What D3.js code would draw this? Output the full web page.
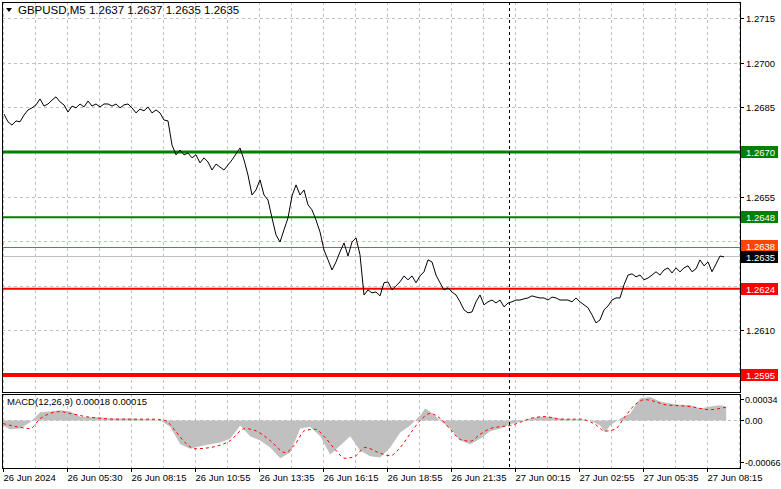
<!DOCTYPE html>
<html>
<head>
<meta charset="utf-8">
<script src="https://cdn.jsdelivr.net/npm/d3@7"></script>
<style>
body { margin: 0; background: #fff; }
text { font-family: "Liberation Sans", Arial, sans-serif; font-size: 9.5px; fill: #000; }
</style>
</head>
<body>
<div id="chart"></div>
<script>
// close prices, one every 10 minutes from 26 Jun 02:50
const closes = [
    1.26827, 1.26801, 1.26790, 1.26804, 1.26801, 1.26824, 1.26841, 1.26848, 1.26858, 1.26878,
    1.26854, 1.26861, 1.26874, 1.26885, 1.26868, 1.26858, 1.26834, 1.26854, 1.26848, 1.26861,
    1.26851, 1.26871, 1.26854, 1.26861, 1.26851, 1.26861, 1.26861, 1.26854, 1.26861, 1.26848,
    1.26858, 1.26861, 1.26848, 1.26831, 1.26844, 1.26838, 1.26851, 1.26831, 1.26841, 1.26831,
    1.26807, 1.26804, 1.26723, 1.26690, 1.26706, 1.26690, 1.26696, 1.26680, 1.26690, 1.26663,
    1.26680, 1.26666, 1.26639, 1.26659, 1.26649, 1.26639, 1.26656, 1.26673, 1.26693, 1.26713,
    1.26673, 1.26622, 1.26555, 1.26572, 1.26606, 1.26555, 1.26538, 1.26478, 1.26421, 1.26397,
    1.26438, 1.26478, 1.26552, 1.26589, 1.26555, 1.26572, 1.26522, 1.26505, 1.26471, 1.26431,
    1.26370, 1.26337, 1.26303, 1.26330, 1.26364, 1.26394, 1.26350, 1.26397, 1.26411, 1.26354,
    1.26219, 1.26236, 1.26226, 1.26229, 1.26216, 1.26260, 1.26263, 1.26236, 1.26250, 1.26263,
    1.26283, 1.26270, 1.26283, 1.26260, 1.26283, 1.26297, 1.26337, 1.26330, 1.26286, 1.26260,
    1.26236, 1.26243, 1.26229, 1.26219, 1.26196, 1.26169, 1.26159, 1.26162, 1.26196, 1.26219,
    1.26186, 1.26196, 1.26202, 1.26192, 1.26202, 1.26179, 1.26192, 1.26196, 1.26202, 1.26202,
    1.26206, 1.26209, 1.26216, 1.26212, 1.26209, 1.26209, 1.26202, 1.26212, 1.26209, 1.26202,
    1.26202, 1.26202, 1.26196, 1.26209, 1.26196, 1.26186, 1.26176, 1.26152, 1.26125, 1.26135,
    1.26169, 1.26182, 1.26202, 1.26209, 1.26209, 1.26253, 1.26286, 1.26290, 1.26280, 1.26286,
    1.26270, 1.26276, 1.26286, 1.26297, 1.26286, 1.26303, 1.26310, 1.26293, 1.26310, 1.26297,
    1.26310, 1.26317, 1.26297, 1.26307, 1.26337, 1.26317, 1.26330, 1.26297, 1.26323, 1.26350,
    1.26347
];

// MACD, [minutes from 02:50, value]
const macdHist = [
    [0, -0.00008], [18, -0.00014], [43, -0.00013], [68, -0.00003], [93, 0.00013], [118, 0.00014],
    [143, 0.00016], [168, 0.00014], [193, 0.00006], [218, 0.00005], [243, 0.00005], [268, 0.00003],
    [293, 0.00003], [318, 0.00003], [343, 0.00002], [368, 0.00002], [393, 0], [418, -0.0001],
    [443, -0.00038], [468, -0.00045], [493, -0.00041], [518, -0.00038], [543, -0.00035], [568, -0.00029],
    [593, -0.00008], [618, -0.00025], [643, -0.00032], [668, -0.00043], [693, -0.0006], [718, -0.00051],
    [743, -0.00013], [768, -0.0001], [793, -0.00025], [818, -0.00054], [843, -0.0004], [868, -0.00025],
    [893, -0.00048], [918, -0.00057], [943, -0.00059], [968, -0.00043], [993, -0.00019], [1018, -0.00008],
    [1043, 0.00008], [1055, 0.00019], [1068, 0.00014], [1093, 0], [1118, -0.00013], [1143, -0.00032],
    [1168, -0.00038], [1193, -0.00029], [1218, -0.00017], [1243, -0.00013], [1268, -0.00006], [1293, -0.00002],
    [1318, 0.00003], [1343, 0.00006], [1368, 0.00006], [1393, 0.00003], [1418, 0.00002], [1443, 0.00002],
    [1468, 0], [1493, -0.00008], [1505, -0.00019], [1518, -0.00008], [1543, 0.00003], [1568, 0.00011],
    [1593, 0.00035], [1618, 0.00037], [1643, 0.0003], [1668, 0.00027], [1693, 0.00025], [1718, 0.00024],
    [1743, 0.00019], [1768, 0.00022], [1793, 0.00024], [1808, 0.00022]
];
const macdSignal = [
    [0, -0.00005], [43, -0.00011], [68, -0.00013], [93, 0.00003], [143, 0.00014], [168, 0.00011],
    [218, 0.00005], [293, 0.00002], [368, 0.00002], [405, 0], [430, -0.00016], [455, -0.00035],
    [480, -0.00045], [518, -0.00043], [568, -0.00032], [605, -0.00013], [630, -0.00016], [668, -0.00032],
    [705, -0.00051], [730, -0.00038], [755, -0.00016], [780, -0.00014], [805, -0.00027], [830, -0.00046],
    [855, -0.0006], [880, -0.00057], [905, -0.00043], [943, -0.00052], [968, -0.00056], [993, -0.00043],
    [1018, -0.00021], [1043, 0], [1068, 0.00011], [1093, 0.00003], [1118, -0.00014], [1143, -0.0003],
    [1168, -0.00033], [1193, -0.00022], [1218, -0.00013], [1243, -0.0001], [1268, -0.00008], [1293, -0.00003],
    [1318, 0.00003], [1355, 0.00006], [1393, 0.00002], [1443, 0.00002], [1480, -0.00006], [1505, -0.00017],
    [1530, -0.00014], [1555, 0.00006], [1580, 0.00025], [1605, 0.00033], [1630, 0.0003], [1655, 0.00025],
    [1718, 0.00022], [1768, 0.00017], [1793, 0.00019], [1808, 0.00021]
];

const priceTicks = [1.2715, 1.2700, 1.2685, 1.2655, 1.2610];
const gridPrices = [1.2715, 1.2700, 1.2685, 1.2670, 1.2655, 1.2640, 1.2625, 1.2610, 1.2595];
const levels = [
    { price: 1.2670, color: '#008000', width: 3, label: '1.2670' },
    { price: 1.2648, color: '#008000', width: 2, label: '1.2648' },
    { price: 1.2624, color: '#ff0000', width: 2, label: '1.2624' },
    { price: 1.2595, color: '#ff0000', width: 4, label: '1.2595' }
];
const askPrice = 1.2638, bidPrice = 1.2635;
const macdTicks = [0.00034, 0.00, -0.00066];
const macdTickLabels = ['0.00034', '0.00', '-0.00066'];
const timeLabels = ['26 Jun 2024', '26 Jun 05:30', '26 Jun 08:15', '26 Jun 10:55', '26 Jun 13:35',
    '26 Jun 16:15', '26 Jun 18:55', '26 Jun 21:35', '27 Jun 00:15', '27 Jun 02:55', '27 Jun 05:35', '27 Jun 08:15'];

const W = 781, H = 489;
const left = 2, right = 740;
const mainTop = 2, mainBot = 392, macdTop = 394, macdBot = 468;

const t0 = new Date(2024, 5, 26, 2, 50);
const minutes = m => new Date(t0.getTime() + m * 60000);
const x = d3.scaleTime().domain([t0, minutes(370 * 5)]).range([3, 3 + 370 * 2]);
const y = d3.scaleLinear().domain([1.2595, 1.2715]).range([375, 18]);
const ym = d3.scaleLinear().domain([-0.00066, 0.00034]).range([462, 399]);

const svg = d3.select('#chart').append('svg').attr('width', W).attr('height', H);

svg.append('clipPath').attr('id', 'cm').append('rect')
    .attr('x', left).attr('y', mainTop).attr('width', right - left).attr('height', mainBot - mainTop);
svg.append('clipPath').attr('id', 'cd').append('rect')
    .attr('x', left).attr('y', macdTop).attr('width', right - left).attr('height', macdBot - macdTop);

const main = svg.append('g').attr('clip-path', 'url(#cm)');
const macd = svg.append('g').attr('clip-path', 'url(#cd)');

// vertical grid every 80 min
const vgrid = d3.range(0, 370 * 5 + 1, 80).map(minutes);
[[main, mainTop, mainBot], [macd, macdTop, macdBot]].forEach(([g, a, b]) => {
    g.selectAll('.vg').data(vgrid).enter().append('line')
        .attr('x1', d => Math.round(x(d)) + 0.5).attr('x2', d => Math.round(x(d)) + 0.5)
        .attr('y1', a).attr('y2', b)
        .attr('stroke', '#c0c0c0').attr('stroke-dasharray', '3,3');
});
main.selectAll('.hg').data(gridPrices).enter().append('line')
    .attr('x1', left).attr('x2', right)
    .attr('y1', d => Math.round(y(d)) + 0.5).attr('y2', d => Math.round(y(d)) + 0.5)
    .attr('stroke', '#c0c0c0').attr('stroke-dasharray', '3,3');
macd.append('line').attr('x1', left).attr('x2', right)
    .attr('y1', Math.round(ym(0)) + 0.5).attr('y2', Math.round(ym(0)) + 0.5)
    .attr('stroke', '#c0c0c0').attr('stroke-dasharray', '3,3');

// levels
main.selectAll('.lv').data(levels).enter().append('line')
    .attr('x1', left).attr('x2', right)
    .attr('y1', d => y(d.price)).attr('y2', d => y(d.price))
    .attr('stroke', d => d.color).attr('stroke-width', d => d.width);
main.append('line').attr('x1', left).attr('x2', right)
    .attr('y1', Math.round(y(askPrice)) + 0.5).attr('y2', Math.round(y(askPrice)) + 0.5).attr('stroke', '#ff4500');
main.append('line').attr('x1', left).attr('x2', right)
    .attr('y1', Math.round(y(bidPrice)) + 0.5).attr('y2', Math.round(y(bidPrice)) + 0.5).attr('stroke', '#c0c0c0');

// price line
main.append('path')
    .datum(closes)
    .attr('d', d3.line().x((d, i) => x(minutes(i * 10)) + 1).y(d => y(d)))
    .attr('fill', 'none').attr('stroke', '#000').attr('stroke-width', 1);

// macd
macd.append('path')
    .datum(macdHist)
    .attr('d', d3.area().x(d => x(minutes(d[0]))).y0(ym(0)).y1(d => ym(d[1])))
    .attr('fill', '#c0c0c0');
macd.append('path')
    .datum(macdSignal)
    .attr('d', d3.line().x(d => x(minutes(d[0]))).y(d => ym(d[1])).curve(d3.curveMonotoneX))
    .attr('fill', 'none').attr('stroke', '#ff0000').attr('stroke-dasharray', '3,3');

// dashed period separator
svg.append('line').attr('x1', 509.5).attr('x2', 509.5).attr('y1', mainTop).attr('y2', macdBot)
    .attr('stroke', '#000').attr('stroke-dasharray', '3,3');

// panel frames
[[mainTop, mainBot], [macdTop, macdBot]].forEach(([a, b]) => {
    svg.append('rect').attr('x', left + 0.5).attr('y', a + 0.5)
        .attr('width', right - left).attr('height', b - a)
        .attr('fill', 'none').attr('stroke', '#000');
});

// right axis
svg.selectAll('.pt').data(priceTicks).enter().append('g').each(function (d) {
    const g = d3.select(this);
    const yy = Math.round(y(d)) + 0.5;
    g.append('line').attr('x1', right).attr('x2', right + 4).attr('y1', yy).attr('y2', yy).attr('stroke', '#000');
    g.append('text').attr('x', right + 6).attr('y', yy + 3.5).text(d.toFixed(4));
});
const boxes = levels.map(d => ({ price: d.price, fill: d.color === '#008000' ? '#008000' : '#ff0000', label: d.label }))
    .concat([{ price: askPrice, fill: '#ff4500', label: '1.2638', dy: -1 }, { price: bidPrice, fill: '#000', label: '1.2635', dy: 1 }]);
svg.selectAll('.bx').data(boxes).enter().append('g').each(function (d) {
    const g = d3.select(this);
    const yy = Math.round(y(d.price)) + (d.dy || 0);
    g.append('rect').attr('x', right + 1).attr('y', yy - 6).attr('width', 37).attr('height', 12).attr('fill', d.fill);
    g.append('text').attr('x', right + 6).attr('y', yy + 3.5).style('fill', '#fff').text(d.label);
});
macdTicks.forEach((d, i) => {
    const yy = Math.round(ym(d)) + 0.5;
    svg.append('line').attr('x1', right).attr('x2', right + 4).attr('y1', yy).attr('y2', yy).attr('stroke', '#000');
    svg.append('text').attr('x', right + 5).attr('y', yy + 3.5).style('font-size', '9px').text(macdTickLabels[i]);
});

// bottom axis
const tTicks = d3.range(0, 370 * 5, 160).map(minutes);
svg.selectAll('.tt').data(tTicks).enter().append('g').each(function (d, i) {
    const g = d3.select(this);
    const xx = Math.round(x(d)) + 0.5;
    g.append('line').attr('x1', xx).attr('x2', xx).attr('y1', macdBot).attr('y2', macdBot + 4).attr('stroke', '#000');
    g.append('text').attr('x', xx).attr('y', 481).text(timeLabels[i]);
});

// titles
svg.append('path').attr('d', 'M6,8 L12,8 L9,12 Z').attr('fill', '#000');
svg.append('text').attr('x', 18).attr('y', 14).style('font-size', '11.5px').text('GBPUSD,M5  1.2637 1.2637 1.2635 1.2635');
svg.append('text').attr('x', 7).attr('y', 405).text('MACD(12,26,9) 0.00018 0.00015');
</script>
</body>
</html>
